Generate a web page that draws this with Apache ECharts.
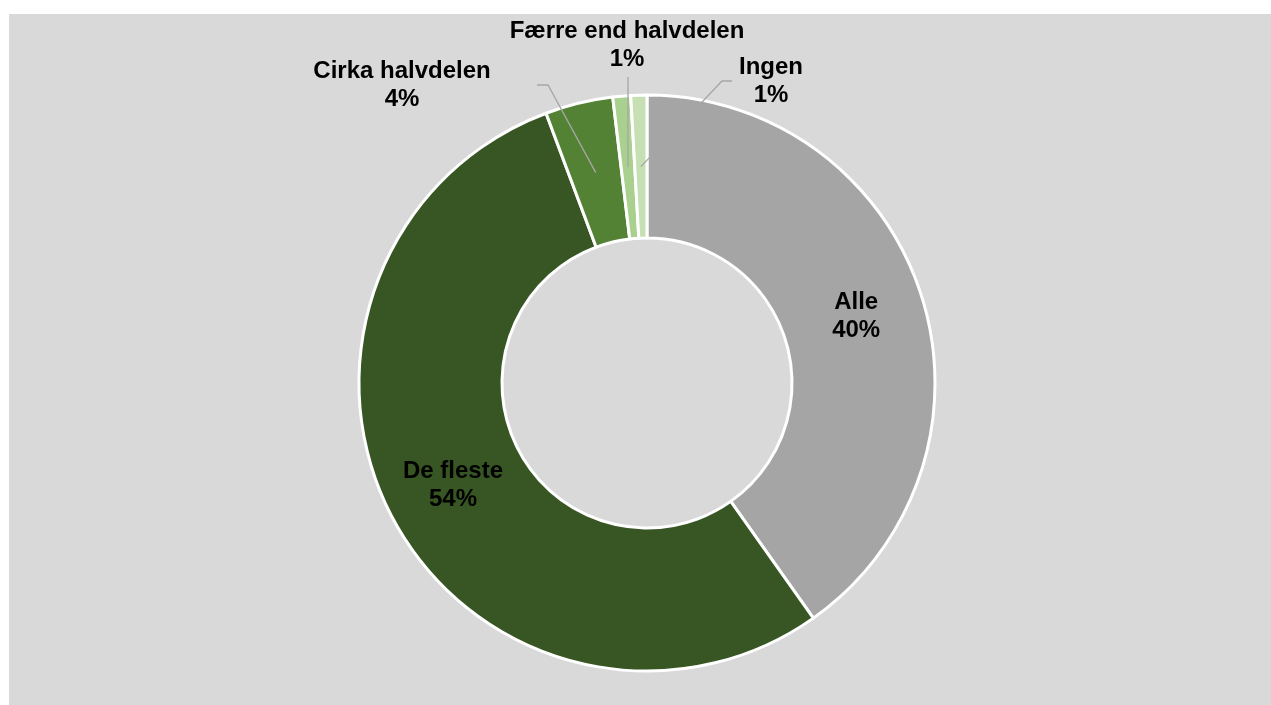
<!DOCTYPE html>
<html lang="da">

<head>
    <meta charset="UTF-8">
    <title>Fordeling</title>
    <script src="https://cdn.jsdelivr.net/npm/echarts/dist/echarts.min.js"></script>
    <style>
        html, body {
            margin: 0;
            padding: 0;
            background: #ffffff;
        }
        #chart {
            position: absolute;
            left: 9px;
            top: 14px;
            width: 1262px;
            height: 691px;
            background: #d9d9d9;
        }
    </style>
</head>

<body>
    <div id="chart"></div>

    <script>
        // data (andele i procent)
        const categories = ['Alle', 'De fleste', 'Cirka halvdelen', 'Færre end halvdelen', 'Ingen'];
        const values = [40.2, 54.1, 3.8, 1.0, 0.9];
        const colors = ['#a5a5a5', '#375623', '#548235', '#a9d08e', '#c6e0b4'];

        // labels that sit inside the ring
        const insideLabels = ['Alle', 'De fleste'];

        // where the outside labels go, and where their leader line meets the label
        const outerLabels = {
            'Cirka halvdelen': { x: 393, y: 71, end: [528, 71], elbow: [539, 71] },
            'Færre end halvdelen': { x: 618, y: 31, end: [619, 63], elbow: null },
            'Ingen': { x: 762, y: 67, end: [723, 67], elbow: [713, 67] }
        };

        const cx = 638, cy = 369, r0 = 145, r1 = 288;

        // mid angle of each slice (clockwise from top), from the values
        const total = values.reduce((a, b) => a + b, 0);
        const midAngles = [];
        let acc = 0;
        values.forEach(v => {
            midAngles.push((acc + v / 2) / total * 2 * Math.PI);
            acc += v;
        });

        // leader lines: from the middle of the ring to the label
        const leaderLines = [];
        categories.forEach((name, i) => {
            const pos = outerLabels[name];
            if (!pos) return;
            const rm = (r0 + r1) / 2;
            const start = [cx + rm * Math.sin(midAngles[i]), cy - rm * Math.cos(midAngles[i])];
            const pts = pos.elbow ? [start, pos.elbow, pos.end] : [start, pos.end];
            leaderLines.push({
                type: 'polyline',
                z: 100,
                silent: true,
                shape: { points: pts },
                style: { stroke: '#a6a6a6', lineWidth: 1.3, fill: null }
            });
        });

        const chart = echarts.init(document.getElementById('chart'));

        const option = {
            color: colors,
            graphic: leaderLines,
            series: [{
                type: 'pie',
                center: [cx, cy],
                radius: [r0, r1],
                startAngle: 90,
                clockwise: true,
                percentPrecision: 0,
                avoidLabelOverlap: false,
                silent: true,
                itemStyle: {
                    borderColor: '#ffffff',
                    borderWidth: 3
                },
                label: {
                    show: true,
                    position: 'outside',
                    formatter: '{b}\n{d}%',
                    color: '#000000',
                    fontFamily: 'Liberation Sans, Arial, sans-serif',
                    fontWeight: 'bold',
                    fontSize: 24,
                    lineHeight: 28,
                    align: 'center'
                },
                labelLine: { show: false },
                labelLayout: function (params) {
                    const pos = outerLabels[categories[params.dataIndex]];
                    if (!pos) return {};
                    return {
                        x: pos.x,
                        y: pos.y,
                        align: 'center',
                        verticalAlign: 'middle'
                    };
                },
                data: categories.map((name, i) => ({
                    name: name,
                    value: values[i],
                    label: insideLabels.includes(name) ? { position: 'inside' } : undefined
                }))
            }]
        };

        chart.setOption(option);
    </script>
</body>

</html>
